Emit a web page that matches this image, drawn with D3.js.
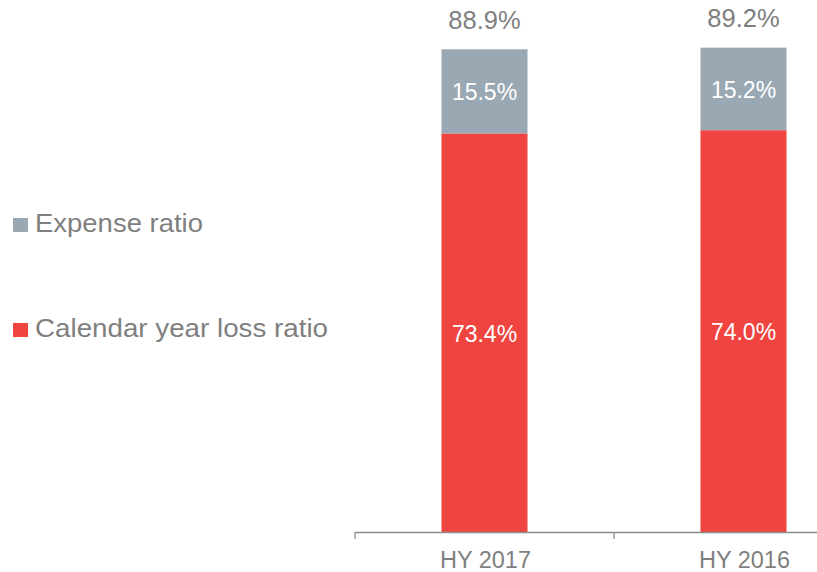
<!DOCTYPE html>
<html>
<head>
<meta charset="utf-8">
<script src="https://cdn.jsdelivr.net/npm/d3@7"></script>
<style>
  html, body { margin: 0; padding: 0; background: #fff; }
  svg { display: block; font-family: "Liberation Sans", Arial, sans-serif; }
</style>
</head>
<body>
<svg id="chart" width="817" height="572"></svg>
<script>
const categories = ["HY 2017", "HY 2016"];
const seriesNames = ["Calendar year loss ratio", "Expense ratio"];
const lossRatio = [73.4, 74.0];
const expenseRatio = [15.5, 15.2];
const totals = [88.9, 89.2];
const colors = ["#f04441", "#9aa8b3"];

const svg = d3.select("#chart");
const W = 817, H = 572;
const baseY = 532;

const x = d3.scaleBand().domain(categories).range([355, 873]).paddingInner(0).paddingOuter(0);
const barW = 86;
const y = d3.scaleLinear().domain([0, 100]).range([baseY, baseY - 543]);

const table = categories.map((c, i) => ({ cat: c, loss: lossRatio[i], expense: expenseRatio[i] }));
const stack = d3.stack().keys(["loss", "expense"]);
const stacked = stack(table);

const g = svg.append("g");
stacked.forEach((layer, li) => {
  g.selectAll(".bar" + li).data(layer).enter().append("rect")
    .attr("x", d => x(d.data.cat) + x.bandwidth() / 2 - barW / 2)
    .attr("width", barW)
    .attr("y", d => y(d[1]))
    .attr("height", d => y(d[0]) - y(d[1]))
    .attr("fill", colors[li]);
  g.selectAll(".lab" + li).data(layer).enter().append("text")
    .attr("x", d => x(d.data.cat) + x.bandwidth() / 2)
    .attr("y", d => (y(d[0]) + y(d[1])) / 2 + 9)
    .attr("text-anchor", "middle")
    .attr("fill", "#ffffff")
    .attr("font-size", 23)
    .text(d => (d[1] - d[0]).toFixed(1) + "%");
});

// totals
g.selectAll(".tot").data(categories).enter().append("text")
  .attr("x", c => x(c) + x.bandwidth() / 2)
  .attr("y", (c, i) => y(totals[i]) - 20.5)
  .attr("text-anchor", "middle")
  .attr("fill", "#7f7f7f")
  .attr("font-size", 25.5)
  .text((c, i) => totals[i].toFixed(1) + "%");

// axis
const axis = d3.axisBottom(x).tickSize(0).tickPadding(0);
const ax = svg.append("g").attr("transform", `translate(0,${baseY})`).call(axis);
ax.select(".domain").remove();
ax.selectAll(".tick line").remove();
ax.selectAll(".tick text")
  .attr("y", 36)
  .attr("dy", 0)
  .attr("dx", 1)
  .attr("fill", "#7f7f7f")
  .attr("font-size", 23.5)
  .attr("font-family", "Liberation Sans, Arial, sans-serif");
ax.append("line").attr("x1", 355).attr("x2", W).attr("y1", 0.5).attr("y2", 0.5)
  .attr("stroke", "#8c8c8c").attr("stroke-width", 1.3);
const boundaries = [x.range()[0]].concat(categories.slice(1).map(c => x(c)));
ax.selectAll(".sep").data(boundaries).enter().append("line")
  .attr("x1", d => d).attr("x2", d => d).attr("y1", 0).attr("y2", 7)
  .attr("stroke", "#8c8c8c").attr("stroke-width", 1.3);

// legend
const legendItems = [
  { name: seriesNames[1], color: colors[1], y: 232, len: 168 },
  { name: seriesNames[0], color: colors[0], y: 337, len: 293 }
];
const lg = svg.append("g");
legendItems.forEach(it => {
  lg.append("rect").attr("x", 13).attr("y", it.y - 14).attr("width", 15).attr("height", 14).attr("fill", it.color);
  lg.append("text").attr("x", 35).attr("y", it.y).attr("fill", "#7f7f7f")
    .attr("font-size", 25.5)
    .attr("textLength", it.len).attr("lengthAdjust", "spacingAndGlyphs")
    .text(it.name);
});
</script>
</body>
</html>
